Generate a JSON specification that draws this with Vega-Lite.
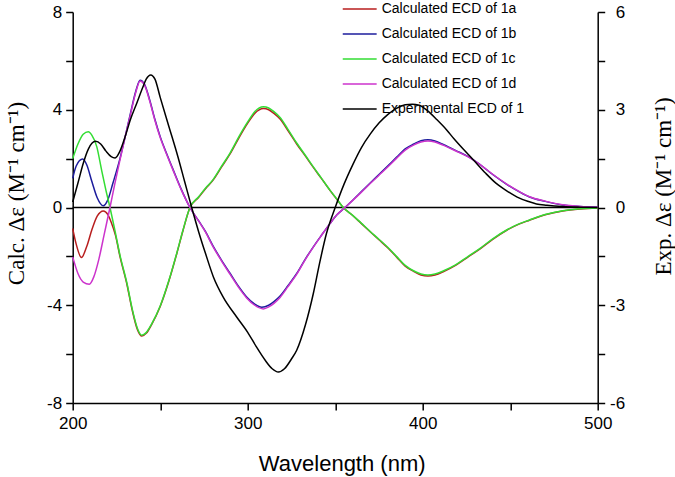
{
"$schema": "https://vega.github.io/schema/vega-lite/v6.json",
"width": 525, "height": 391,
"autosize": "none",
"padding": {"left": 72.7, "top": 12, "right": 77.3, "bottom": 74},
"background": "white",
"config": {
 "view": {"stroke": null},
 "axis": {"grid": false, "labelFlush": false, "domainColor": "black", "domainWidth": 1.5, "tickColor": "black", "tickWidth": 1.5, "tickSize": 7, "labelFont": "Liberation Sans", "labelFontSize": 17, "labelColor": "black", "titleColor": "black", "titleFontWeight": "normal"},
 "legend": {"labelFont": "Liberation Sans", "labelFontSize": 14, "labelColor": "black"}
},
"datasets": {
"calc": [
{"s":"a","x":200,"y":-0.86},{"s":"a","x":202,"y":-1.5},{"s":"a","x":205,"y":-2.05},{"s":"a","x":208,"y":-1.6},{"s":"a","x":211,"y":-0.9},{"s":"a","x":214,"y":-0.35},{"s":"a","x":217.5,"y":-0.14},{"s":"a","x":220,"y":-0.28},{"s":"a","x":222,"y":-0.6},{"s":"a","x":224.5,"y":-1.15},{"s":"a","x":227,"y":-2.0},{"s":"a","x":231,"y":-3.15},{"s":"a","x":234,"y":-4.2},{"s":"a","x":237,"y":-5.0},{"s":"a","x":239.5,"y":-5.26},{"s":"a","x":242,"y":-5.15},{"s":"a","x":245,"y":-4.8},{"s":"a","x":250,"y":-4.05},{"s":"a","x":255,"y":-3.0},{"s":"a","x":259.5,"y":-1.88},{"s":"a","x":263,"y":-0.95},{"s":"a","x":267,"y":0},{"s":"a","x":272,"y":0.42},{"s":"a","x":276,"y":0.78},{"s":"a","x":280,"y":1.1},{"s":"a","x":285,"y":1.65},{"s":"a","x":290,"y":2.2},{"s":"a","x":295,"y":2.85},{"s":"a","x":300,"y":3.45},{"s":"a","x":304,"y":3.85},{"s":"a","x":309,"y":4.05},{"s":"a","x":312,"y":4.0},{"s":"a","x":315,"y":3.85},{"s":"a","x":318.5,"y":3.62},{"s":"a","x":323,"y":3.15},{"s":"a","x":328,"y":2.6},{"s":"a","x":333,"y":2.1},{"s":"a","x":337.5,"y":1.64},{"s":"a","x":342,"y":1.2},{"s":"a","x":347,"y":0.7},{"s":"a","x":351,"y":0.33},{"s":"a","x":354.6,"y":0},{"s":"a","x":360,"y":-0.33},{"s":"a","x":365,"y":-0.66},{"s":"a","x":370,"y":-0.99},{"s":"a","x":375,"y":-1.32},{"s":"a","x":380,"y":-1.65},{"s":"a","x":385,"y":-2.02},{"s":"a","x":390,"y":-2.4},{"s":"a","x":395,"y":-2.62},{"s":"a","x":399,"y":-2.76},{"s":"a","x":403,"y":-2.8},{"s":"a","x":407,"y":-2.76},{"s":"a","x":412,"y":-2.62},{"s":"a","x":419,"y":-2.36},{"s":"a","x":426,"y":-2.02},{"s":"a","x":433,"y":-1.68},{"s":"a","x":440,"y":-1.3},{"s":"a","x":448,"y":-0.93},{"s":"a","x":455,"y":-0.68},{"s":"a","x":461,"y":-0.52},{"s":"a","x":470,"y":-0.3},{"s":"a","x":480,"y":-0.14},{"s":"a","x":490,"y":-0.06},{"s":"a","x":500,"y":-0.02},
{"s":"b","x":200,"y":1.19},{"s":"b","x":202,"y":1.7},{"s":"b","x":205.7,"y":1.98},{"s":"b","x":208,"y":1.75},{"s":"b","x":211,"y":1.05},{"s":"b","x":214,"y":0.4},{"s":"b","x":217.5,"y":0.07},{"s":"b","x":220,"y":0.3},{"s":"b","x":223,"y":1.0},{"s":"b","x":227,"y":2.0},{"s":"b","x":230,"y":2.9},{"s":"b","x":233,"y":3.85},{"s":"b","x":236,"y":4.75},{"s":"b","x":238.5,"y":5.21},{"s":"b","x":241,"y":5.05},{"s":"b","x":244,"y":4.4},{"s":"b","x":247,"y":3.6},{"s":"b","x":250,"y":2.9},{"s":"b","x":254,"y":2.15},{"s":"b","x":257.5,"y":1.53},{"s":"b","x":262,"y":0.75},{"s":"b","x":267,"y":0},{"s":"b","x":272,"y":-0.55},{"s":"b","x":276,"y":-1.0},{"s":"b","x":280,"y":-1.55},{"s":"b","x":285,"y":-2.15},{"s":"b","x":290,"y":-2.7},{"s":"b","x":295,"y":-3.25},{"s":"b","x":299.4,"y":-3.66},{"s":"b","x":304,"y":-3.95},{"s":"b","x":308,"y":-4.08},{"s":"b","x":312,"y":-4.0},{"s":"b","x":315,"y":-3.85},{"s":"b","x":318.5,"y":-3.62},{"s":"b","x":323,"y":-3.2},{"s":"b","x":328,"y":-2.7},{"s":"b","x":333,"y":-2.1},{"s":"b","x":337.5,"y":-1.61},{"s":"b","x":342,"y":-1.15},{"s":"b","x":347,"y":-0.66},{"s":"b","x":351,"y":-0.3},{"s":"b","x":355.6,"y":0},{"s":"b","x":360,"y":0.3},{"s":"b","x":365,"y":0.65},{"s":"b","x":370,"y":1.0},{"s":"b","x":375,"y":1.35},{"s":"b","x":380,"y":1.7},{"s":"b","x":385,"y":2.05},{"s":"b","x":390,"y":2.4},{"s":"b","x":395,"y":2.6},{"s":"b","x":399,"y":2.73},{"s":"b","x":403,"y":2.77},{"s":"b","x":407,"y":2.72},{"s":"b","x":412,"y":2.57},{"s":"b","x":419,"y":2.33},{"s":"b","x":426,"y":2.08},{"s":"b","x":432,"y":1.8},{"s":"b","x":440,"y":1.35},{"s":"b","x":448,"y":0.95},{"s":"b","x":455,"y":0.65},{"s":"b","x":461,"y":0.43},{"s":"b","x":470,"y":0.25},{"s":"b","x":480,"y":0.1},{"s":"b","x":490,"y":0.04},{"s":"b","x":500,"y":0.01},
{"s":"c","x":200,"y":2.0},{"s":"c","x":203,"y":2.6},{"s":"c","x":206,"y":3.0},{"s":"c","x":208.9,"y":3.1},{"s":"c","x":211,"y":2.95},{"s":"c","x":213.7,"y":2.5},{"s":"c","x":216.6,"y":1.5},{"s":"c","x":219,"y":0.7},{"s":"c","x":221.3,"y":0},{"s":"c","x":224,"y":-0.9},{"s":"c","x":227,"y":-1.95},{"s":"c","x":231,"y":-3.1},{"s":"c","x":234,"y":-4.15},{"s":"c","x":237,"y":-4.95},{"s":"c","x":239.5,"y":-5.23},{"s":"c","x":242,"y":-5.12},{"s":"c","x":245,"y":-4.78},{"s":"c","x":250,"y":-4.03},{"s":"c","x":255,"y":-2.98},{"s":"c","x":259.5,"y":-1.86},{"s":"c","x":263,"y":-0.93},{"s":"c","x":267,"y":0},{"s":"c","x":272,"y":0.44},{"s":"c","x":276,"y":0.8},{"s":"c","x":280,"y":1.12},{"s":"c","x":285,"y":1.68},{"s":"c","x":290,"y":2.24},{"s":"c","x":295,"y":2.9},{"s":"c","x":300,"y":3.5},{"s":"c","x":304,"y":3.92},{"s":"c","x":309,"y":4.12},{"s":"c","x":312,"y":4.07},{"s":"c","x":315,"y":3.92},{"s":"c","x":318.5,"y":3.68},{"s":"c","x":323,"y":3.2},{"s":"c","x":328,"y":2.64},{"s":"c","x":333,"y":2.13},{"s":"c","x":337.5,"y":1.66},{"s":"c","x":342,"y":1.21},{"s":"c","x":347,"y":0.71},{"s":"c","x":351,"y":0.34},{"s":"c","x":354.6,"y":0},{"s":"c","x":360,"y":-0.32},{"s":"c","x":365,"y":-0.65},{"s":"c","x":370,"y":-0.98},{"s":"c","x":375,"y":-1.3},{"s":"c","x":380,"y":-1.63},{"s":"c","x":385,"y":-2.0},{"s":"c","x":390,"y":-2.37},{"s":"c","x":395,"y":-2.6},{"s":"c","x":399,"y":-2.72},{"s":"c","x":403,"y":-2.76},{"s":"c","x":407,"y":-2.72},{"s":"c","x":412,"y":-2.59},{"s":"c","x":419,"y":-2.34},{"s":"c","x":426,"y":-2.0},{"s":"c","x":433,"y":-1.66},{"s":"c","x":440,"y":-1.28},{"s":"c","x":448,"y":-0.92},{"s":"c","x":455,"y":-0.67},{"s":"c","x":461,"y":-0.51},{"s":"c","x":470,"y":-0.29},{"s":"c","x":480,"y":-0.13},{"s":"c","x":490,"y":-0.05},{"s":"c","x":500,"y":-0.02},
{"s":"d","x":200,"y":-2.02},{"s":"d","x":203,"y":-2.7},{"s":"d","x":206,"y":-3.05},{"s":"d","x":209.5,"y":-3.14},{"s":"d","x":212,"y":-2.85},{"s":"d","x":215,"y":-2.1},{"s":"d","x":218,"y":-1.1},{"s":"d","x":221.3,"y":0},{"s":"d","x":224,"y":0.95},{"s":"d","x":227,"y":1.94},{"s":"d","x":230,"y":2.9},{"s":"d","x":233,"y":3.8},{"s":"d","x":236,"y":4.7},{"s":"d","x":238.5,"y":5.18},{"s":"d","x":241,"y":5.02},{"s":"d","x":244,"y":4.36},{"s":"d","x":247,"y":3.56},{"s":"d","x":250,"y":2.86},{"s":"d","x":254,"y":2.12},{"s":"d","x":257.5,"y":1.5},{"s":"d","x":262,"y":0.73},{"s":"d","x":267,"y":0},{"s":"d","x":272,"y":-0.56},{"s":"d","x":276,"y":-1.02},{"s":"d","x":280,"y":-1.58},{"s":"d","x":285,"y":-2.18},{"s":"d","x":290,"y":-2.74},{"s":"d","x":295,"y":-3.29},{"s":"d","x":299.4,"y":-3.7},{"s":"d","x":304,"y":-4.0},{"s":"d","x":309,"y":-4.15},{"s":"d","x":312,"y":-4.07},{"s":"d","x":315,"y":-3.92},{"s":"d","x":318.5,"y":-3.68},{"s":"d","x":323,"y":-3.24},{"s":"d","x":328,"y":-2.73},{"s":"d","x":333,"y":-2.12},{"s":"d","x":337.5,"y":-1.62},{"s":"d","x":342,"y":-1.16},{"s":"d","x":347,"y":-0.66},{"s":"d","x":351,"y":-0.3},{"s":"d","x":355.6,"y":0},{"s":"d","x":360,"y":0.29},{"s":"d","x":365,"y":0.63},{"s":"d","x":370,"y":0.98},{"s":"d","x":375,"y":1.32},{"s":"d","x":380,"y":1.66},{"s":"d","x":385,"y":2.01},{"s":"d","x":390,"y":2.35},{"s":"d","x":395,"y":2.56},{"s":"d","x":399,"y":2.68},{"s":"d","x":403,"y":2.72},{"s":"d","x":407,"y":2.68},{"s":"d","x":412,"y":2.54},{"s":"d","x":419,"y":2.31},{"s":"d","x":426,"y":2.07},{"s":"d","x":432,"y":1.8},{"s":"d","x":440,"y":1.36},{"s":"d","x":448,"y":0.96},{"s":"d","x":455,"y":0.66},{"s":"d","x":461,"y":0.44},{"s":"d","x":470,"y":0.26},{"s":"d","x":480,"y":0.11},{"s":"d","x":490,"y":0.04},{"s":"d","x":500,"y":0.01}
],
"exp": [
{"s":"e","x":200,"y":0.17},{"s":"e","x":203,"y":0.75},{"s":"e","x":206,"y":1.35},{"s":"e","x":209,"y":1.8},{"s":"e","x":213,"y":2.03},{"s":"e","x":216,"y":1.95},{"s":"e","x":219,"y":1.73},{"s":"e","x":222,"y":1.56},{"s":"e","x":224.2,"y":1.52},{"s":"e","x":227,"y":1.73},{"s":"e","x":230,"y":2.18},{"s":"e","x":233,"y":2.7},{"s":"e","x":236.6,"y":3.2},{"s":"e","x":240,"y":3.68},{"s":"e","x":242,"y":3.94},{"s":"e","x":244.6,"y":4.07},{"s":"e","x":247,"y":3.94},{"s":"e","x":250,"y":3.38},{"s":"e","x":255,"y":2.48},{"s":"e","x":260,"y":1.58},{"s":"e","x":264,"y":0.79},{"s":"e","x":268,"y":0},{"s":"e","x":272,"y":-0.75},{"s":"e","x":276,"y":-1.43},{"s":"e","x":280.4,"y":-2.13},{"s":"e","x":286,"y":-2.75},{"s":"e","x":293.7,"y":-3.36},{"s":"e","x":300,"y":-3.83},{"s":"e","x":305,"y":-4.28},{"s":"e","x":310,"y":-4.69},{"s":"e","x":314,"y":-4.95},{"s":"e","x":317.5,"y":-5.05},{"s":"e","x":321,"y":-4.95},{"s":"e","x":325,"y":-4.65},{"s":"e","x":328,"y":-4.38},{"s":"e","x":333,"y":-3.6},{"s":"e","x":337.5,"y":-2.64},{"s":"e","x":341,"y":-1.73},{"s":"e","x":345,"y":-0.8},{"s":"e","x":350,"y":0},{"s":"e","x":355,"y":0.71},{"s":"e","x":360,"y":1.31},{"s":"e","x":365,"y":1.84},{"s":"e","x":370,"y":2.25},{"s":"e","x":375,"y":2.59},{"s":"e","x":380,"y":2.85},{"s":"e","x":385,"y":3.04},{"s":"e","x":390,"y":3.15},{"s":"e","x":394,"y":3.17},{"s":"e","x":398,"y":3.14},{"s":"e","x":403,"y":2.96},{"s":"e","x":408,"y":2.7},{"s":"e","x":413.7,"y":2.38},{"s":"e","x":418,"y":2.1},{"s":"e","x":423,"y":1.8},{"s":"e","x":429,"y":1.46},{"s":"e","x":436,"y":1.05},{"s":"e","x":442,"y":0.74},{"s":"e","x":448,"y":0.51},{"s":"e","x":454,"y":0.32},{"s":"e","x":460,"y":0.19},{"s":"e","x":465,"y":0.11},{"s":"e","x":471,"y":0.07},{"s":"e","x":480,"y":0.03},{"s":"e","x":490,"y":0.01},{"s":"e","x":500,"y":0}
]
},
"layer": [
 {"layer": [
  {"data": {"values": [{}]}, "mark": {"type": "rule", "color": "black", "strokeWidth": 1.5}, "encoding": {"y": {"datum": 0, "type": "quantitative"}}},
  {"data": {"name": "calc"},
   "mark": {"type": "line", "interpolate": "monotone", "strokeWidth": 1.5},
   "encoding": {
    "x": {"field": "x", "type": "quantitative", "scale": {"domain": [200, 500], "nice": false, "zero": false},
          "axis": {"values": [200,250,300,350,400,450,500], "labelExpr": "datum.value % 100 == 0 ? '' + datum.value : ''", "labelPadding": 5, "title": "Wavelength (nm)", "titleFont": "Liberation Sans", "titleFontSize": 22, "titleX": 269, "titleY": 67, "titleBaseline": "alphabetic", "titleAnchor": "middle", "titleAlign": "center"}},
    "y": {"field": "y", "type": "quantitative", "scale": {"domain": [-8, 8], "nice": false},
          "axis": {"values": [-8,-6,-4,-2,0,2,4,6,8], "labelExpr": "datum.value % 4 == 0 ? '' + datum.value : ''", "labelPadding": 4, "title": "Calc. Δε (M⁻¹ cm⁻¹)", "titleFont": "Liberation Serif", "titleFontSize": 23, "titleAngle": 270, "titleX": -56, "titleY": 181, "titleBaseline": "middle", "titleAlign": "center"}},
    "color": {"field": "s", "type": "nominal",
      "scale": {"domain": ["a","b","c","d","e"], "range": ["#b81e1e","#1c1c9c","#33dd33","#cc33cc","#000000"]},
      "legend": {"orient": "none", "legendX": 269, "legendY": -21, "title": null, "symbolType": "stroke", "symbolSize": 1150, "symbolStrokeWidth": 1.5, "labelOffset": 4, "rowPadding": -7, "padding": 0,
        "labelExpr": "datum.label == 'a' ? 'Calculated ECD of 1a' : datum.label == 'b' ? 'Calculated ECD of 1b' : datum.label == 'c' ? 'Calculated ECD of 1c' : datum.label == 'd' ? 'Calculated ECD of 1d' : 'Experimental ECD of 1'"}}
   }}
 ]},
 {"data": {"name": "exp"},
  "mark": {"type": "line", "interpolate": "monotone", "strokeWidth": 1.5},
  "encoding": {
   "x": {"field": "x", "type": "quantitative", "scale": {"domain": [200, 500], "nice": false, "zero": false},
         "axis": {"values": [200,250,300,350,400,450,500], "labelExpr": "datum.value % 100 == 0 ? '' + datum.value : ''", "labelPadding": 5, "title": "Wavelength (nm)", "titleFont": "Liberation Sans", "titleFontSize": 22, "titleX": 269, "titleY": 67, "titleBaseline": "alphabetic", "titleAnchor": "middle", "titleAlign": "center"}},
   "y": {"field": "y", "type": "quantitative", "scale": {"domain": [-6, 6], "nice": false},
         "axis": {"orient": "right", "values": [-6,-4.5,-3,-1.5,0,1.5,3,4.5,6], "labelExpr": "datum.value % 3 == 0 ? '' + datum.value : ''", "labelAlign": "right", "labelPadding": 20, "title": "Exp. Δε (M⁻¹ cm⁻¹)", "titleFont": "Liberation Serif", "titleFontSize": 23, "titleAngle": 270, "titleX": 66, "titleY": 174, "titleBaseline": "middle", "titleAlign": "center"}},
   "color": {"field": "s", "type": "nominal",
      "scale": {"domain": ["a","b","c","d","e"], "range": ["#b81e1e","#1c1c9c","#33dd33","#cc33cc","#000000"]},
      "legend": {"orient": "none", "legendX": 269, "legendY": -21, "title": null, "symbolType": "stroke", "symbolSize": 1150, "symbolStrokeWidth": 1.5, "labelOffset": 4, "rowPadding": -7, "padding": 0,
        "labelExpr": "datum.label == 'a' ? 'Calculated ECD of 1a' : datum.label == 'b' ? 'Calculated ECD of 1b' : datum.label == 'c' ? 'Calculated ECD of 1c' : datum.label == 'd' ? 'Calculated ECD of 1d' : 'Experimental ECD of 1'"}}
  }}
],
"resolve": {"scale": {"y": "independent"}}
}
